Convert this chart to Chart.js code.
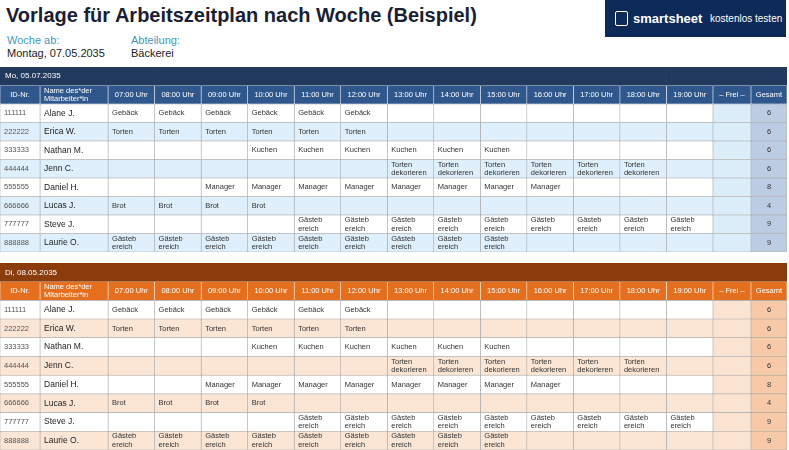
<!DOCTYPE html>
<html>
<head>
<meta charset="utf-8">
<script src="https://cdn.jsdelivr.net/npm/chart.js@4"></script>
<style>
  body { margin: 0; width: 789px; height: 450px; position: relative; background: #fff; font-family: "Liberation Sans", Arial, sans-serif; overflow: hidden; }
  h1 { position: absolute; left: 6px; top: 4px; margin: 0; font-size: 20px; font-weight: bold; color: #1b1f33; }
  .lbl { position: absolute; font-size: 11px; color: #3f97bd; }
  .val { position: absolute; font-size: 11px; color: #222; }
  #logo { position: absolute; left: 605px; top: 0; width: 181px; height: 37px; background: #0e2a58; color: #fff; white-space: nowrap; }
  #logo b { position: absolute; left: 28px; top: 11px; font-size: 13px; }
  #logo span { position: absolute; left: 105px; top: 13px; font-size: 10px; }
  #logo i { position: absolute; left: 10px; top: 11px; width: 11px; height: 13px; border: 1.5px solid #fff; border-radius: 2px; }
  canvas { position: absolute; left: 0; }
</style>
</head>
<body>
<h1>Vorlage für Arbeitszeitplan nach Woche (Beispiel)</h1>
<div class="lbl" style="left:7px;top:34px">Woche ab:</div>
<div class="val" style="left:7px;top:47px">Montag, 07.05.2035</div>
<div class="lbl" style="left:131px;top:34px">Abteilung:</div>
<div class="val" style="left:131px;top:47px">Bäckerei</div>
<div id="logo"><i></i><b>smartsheet</b><span>kostenlos testen</span></div>
<canvas id="week1" width="787" height="185" style="top:67px"></canvas>
<canvas id="week2" width="787" height="187" style="top:263px"></canvas>
<script>
const columns = ['ID-Nr.', 'Name des*der\nMitarbeiter*in', '07:00 Uhr', '08:00 Uhr', '09:00 Uhr', '10:00 Uhr', '11:00 Uhr', '12:00 Uhr',
  '13:00 Uhr', '14:00 Uhr', '15:00 Uhr', '16:00 Uhr', '17:00 Uhr', '18:00 Uhr', '19:00 Uhr', '– Frei –', 'Gesamt'];
const ids = ['111111', '222222', '333333', '444444', '555555', '666666', '777777', '888888'];
const names = ['Alane J.', 'Erica W.', 'Nathan M.', 'Jenn C.', 'Daniel H.', 'Lucas J.', 'Steve J.', 'Laurie O.'];
// \u200B marks where a long word may break inside a narrow cell
const G = 'Gebäck', T = 'Torten', K = 'Kuchen', D = 'Torten dekorieren', M = 'Manager', B = 'Brot', Q = 'Gästeb\u200Bereich', _ = '';
const shifts = [
  [G, G, G, G, G, G, _, _, _, _, _, _, _],
  [T, T, T, T, T, T, _, _, _, _, _, _, _],
  [_, _, _, K, K, K, K, K, K, _, _, _, _],
  [_, _, _, _, _, _, D, D, D, D, D, D, _],
  [_, _, M, M, M, M, M, M, M, M, _, _, _],
  [B, B, B, B, _, _, _, _, _, _, _, _, _],
  [_, _, _, _, Q, Q, Q, Q, Q, Q, Q, Q, Q],
  [Q, Q, Q, Q, Q, Q, Q, Q, Q, _, _, _, _]
];
const totals = [6, 6, 6, 6, 8, 4, 9, 9];
const days = ['Mo, 05.07.2035', 'Di, 08.05.2035'];

// layout: relative column widths
const colWidths = [40, 68, 46.5, 46.5, 46.5, 46.5, 46.5, 46.5, 46.5, 46.5, 46.5, 46.5, 46.5, 46.5, 46.5, 38, 36];
const themes = [
  { day: '#213a5e', head: '#30578c', band: '#dfeffb', free: '#dcedfa', total: '#bccde3', dayText: '#fff' },
  { day: '#8a3c0c', head: '#e46f1e', band: '#fbe5d4', free: '#fbe3d1', total: '#f6c9a8', dayText: '#fff' }
];

function cellText(row, col, day) {
  if (row === 0) return col === 0 ? days[day] : '';
  if (row === 1) return columns[col];
  const r = row - 2;
  if (col === 0) return ids[r];
  if (col === 1) return names[r];
  if (col === 16) return String(totals[r]);
  if (col === 15) return '';
  return shifts[r][col - 2];
}

// word wrap on spaces and zero-width break hints
function wrap(ctx, text, w) {
  const out = [];
  let line = '';
  text.split(/(?=\u200B)| /).forEach(piece => {
    const brk = piece.startsWith('\u200B');
    const word = piece.replace('\u200B', '');
    const t = line ? line + (brk ? '' : ' ') + word : word;
    if (!line || ctx.measureText(t).width <= w) { line = t; return; }
    out.push(line);
    line = word;
  });
  if (line) out.push(line);
  return out;
}

function makeWeek(canvasId, day) {
  const th = themes[day];
  const rowLabels = ['day', 'head'].concat(ids);
  const datasets = columns.map((c, ci) => ({
    label: c,
    data: rowLabels.map(() => colWidths[ci]),
    backgroundColor: ctx => {
      const r = ctx.dataIndex;
      if (r === 0) return th.day;
      if (r === 1) return th.head;
      if (ci === 16) return th.total;
      if (ci === 15) return th.free;
      return (r - 2) % 2 === 1 ? th.band : '#ffffff';
    },
    borderColor: ctx => ctx.dataIndex === 1 ? 'rgba(255,255,255,0.6)' : '#a5a5a5',
    borderWidth: ctx => ctx.dataIndex === 0 ? 0 : 0.6,
    borderSkipped: false,
    categoryPercentage: 1,
    barPercentage: 1
  }));

  const textPlugin = {
    id: 'cellText',
    afterDatasetsDraw(chart) {
      const ctx = chart.ctx;
      ctx.save();
      ctx.textBaseline = 'middle';
      chart.data.datasets.forEach((ds, ci) => {
        chart.getDatasetMeta(ci).data.forEach((el, r) => {
          const txt = cellText(r, ci, day);
          if (!txt) return;
          const left = Math.min(el.x, el.base), right = Math.max(el.x, el.base);
          const cy = el.y;
          ctx.font = '7.5px "Liberation Sans", Arial, sans-serif';
          let align = 'left', x = left + 4, color = '#333';
          if (r === 0) { color = th.dayText; x = left + 5; ctx.font = '8px "Liberation Sans", Arial, sans-serif'; }
          else if (r === 1) { color = '#fff'; if (ci !== 1) { align = 'center'; x = (left + right) / 2; } }
          else if (ci === 16) { align = 'center'; x = (left + right) / 2; }
          else if (ci === 1) { ctx.font = '8.5px "Liberation Sans", Arial, sans-serif'; color = '#222'; }
          else if (ci === 0) { color = '#555'; }
          const isShift = r > 1 && ci > 1 && ci < 15;
          const lines = isShift ? wrap(ctx, txt, right - left - 6) : txt.split('\n');
          ctx.fillStyle = color;
          ctx.textAlign = align;
          const lh = 8.5;
          lines.forEach((ln, i) => ctx.fillText(ln, x, cy + (i - (lines.length - 1) / 2) * lh));
        });
      });
      ctx.restore();
    }
  };

  const total = colWidths.reduce((a, b) => a + b, 0);
  new Chart(document.getElementById(canvasId), {
    type: 'bar',
    data: { labels: rowLabels, datasets },
    options: {
      indexAxis: 'y',
      responsive: false,
      animation: false,
      layout: { padding: 0 },
      plugins: { legend: { display: false }, tooltip: { enabled: false } },
      scales: {
        x: { stacked: true, display: false, min: 0, max: total },
        y: { stacked: true, display: false }
      }
    },
    plugins: [textPlugin]
  });
}

makeWeek('week1', 0);
makeWeek('week2', 1);
</script>
</body>
</html>
